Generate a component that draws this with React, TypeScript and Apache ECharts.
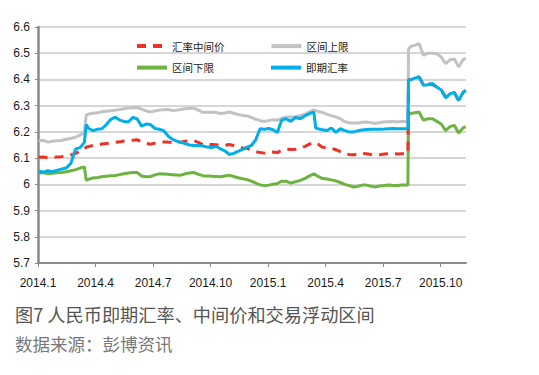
import React, { useEffect, useRef } from "react";
import * as echarts from "echarts";

// Sample dates (roughly weekly, plus the dates around the band/level jumps)
const dates: string[] = [
  "2014-01-02", "2014-01-10", "2014-01-17", "2014-01-24", "2014-01-31", "2014-02-07", "2014-02-14", "2014-02-21", "2014-02-28", "2014-03-07",
  "2014-03-14", "2014-03-17", "2014-03-21", "2014-03-28", "2014-04-04", "2014-04-11", "2014-04-18", "2014-04-25", "2014-05-02", "2014-05-09",
  "2014-05-16", "2014-05-23", "2014-05-30", "2014-06-06", "2014-06-13", "2014-06-20", "2014-06-27", "2014-07-04", "2014-07-11", "2014-07-18",
  "2014-07-25", "2014-08-01", "2014-08-08", "2014-08-15", "2014-08-22", "2014-08-29", "2014-09-05", "2014-09-12", "2014-09-19", "2014-09-26",
  "2014-10-03", "2014-10-10", "2014-10-17", "2014-10-24", "2014-10-31", "2014-11-07", "2014-11-14", "2014-11-21", "2014-11-28", "2014-12-05",
  "2014-12-12", "2014-12-19", "2014-12-26", "2015-01-02", "2015-01-09", "2015-01-16", "2015-01-23", "2015-01-30", "2015-02-06", "2015-02-13",
  "2015-02-20", "2015-02-27", "2015-03-06", "2015-03-13", "2015-03-16", "2015-03-20", "2015-03-27", "2015-04-03", "2015-04-10", "2015-04-17",
  "2015-04-24", "2015-05-01", "2015-05-08", "2015-05-15", "2015-05-22", "2015-05-29", "2015-06-05", "2015-06-12", "2015-06-19", "2015-06-26",
  "2015-07-03", "2015-07-10", "2015-07-17", "2015-07-24", "2015-07-31", "2015-08-07", "2015-08-10", "2015-08-11", "2015-08-14", "2015-08-21",
  "2015-08-28", "2015-09-04", "2015-09-11", "2015-09-18", "2015-09-25", "2015-10-02", "2015-10-09", "2015-10-16", "2015-10-23", "2015-10-30",
  "2015-11-06", "2015-11-10",
];

// 汇率中间价
const midRate: number[] = [
  6.103, 6.104, 6.101, 6.103, 6.104, 6.105, 6.108, 6.112, 6.118, 6.126,
  6.134, 6.142, 6.144, 6.148, 6.150, 6.154, 6.156, 6.158, 6.160, 6.162,
  6.165, 6.167, 6.168, 6.170, 6.163, 6.156, 6.153, 6.157, 6.160, 6.161,
  6.161, 6.159, 6.160, 6.161, 6.164, 6.166, 6.166, 6.160, 6.151, 6.152,
  6.152, 6.151, 6.147, 6.149, 6.152, 6.148, 6.143, 6.139, 6.137, 6.132,
  6.125, 6.121, 6.119, 6.121, 6.123, 6.121, 6.130, 6.134, 6.133, 6.134,
  6.138, 6.145, 6.153, 6.160, 6.157, 6.153, 6.141, 6.140, 6.138, 6.132,
  6.125, 6.116, 6.114, 6.113, 6.114, 6.118, 6.117, 6.114, 6.111, 6.113,
  6.116, 6.117, 6.117, 6.116, 6.117, 6.117, 6.117, 6.398, 6.400, 6.405,
  6.410, 6.380, 6.385, 6.380, 6.372, 6.360, 6.332, 6.345, 6.350, 6.320,
  6.350, 6.358,
];

// 区间上限
const upperBand: number[] = [
  6.166, 6.168, 6.161, 6.164, 6.166, 6.167, 6.172, 6.175, 6.180, 6.188,
  6.197, 6.265, 6.268, 6.271, 6.273, 6.277, 6.279, 6.281, 6.283, 6.285,
  6.288, 6.291, 6.292, 6.293, 6.287, 6.280, 6.276, 6.280, 6.283, 6.284,
  6.285, 6.282, 6.283, 6.285, 6.288, 6.290, 6.290, 6.283, 6.274, 6.275,
  6.275, 6.274, 6.270, 6.272, 6.276, 6.271, 6.266, 6.263, 6.261, 6.255,
  6.248, 6.243, 6.240, 6.243, 6.246, 6.244, 6.253, 6.256, 6.257, 6.258,
  6.262, 6.268, 6.276, 6.284, 6.281, 6.278, 6.274, 6.267, 6.262, 6.257,
  6.250, 6.239, 6.235, 6.234, 6.234, 6.237, 6.238, 6.235, 6.232, 6.236,
  6.238, 6.239, 6.240, 6.238, 6.240, 6.240, 6.240, 6.515, 6.525, 6.530,
  6.537, 6.492, 6.500, 6.500, 6.498, 6.485, 6.460, 6.475, 6.478, 6.448,
  6.475, 6.482,
];

// 区间下限
const lowerBand: number[] = [
  6.042, 6.045, 6.040, 6.042, 6.044, 6.045, 6.048, 6.052, 6.056, 6.062,
  6.066, 6.015, 6.020, 6.024, 6.026, 6.029, 6.031, 6.033, 6.034, 6.037,
  6.040, 6.043, 6.045, 6.045, 6.032, 6.029, 6.030, 6.036, 6.040, 6.039,
  6.038, 6.037, 6.036, 6.035, 6.040, 6.043, 6.045, 6.038, 6.033, 6.032,
  6.031, 6.030, 6.029, 6.032, 6.035, 6.030, 6.025, 6.021, 6.018, 6.012,
  6.005, 5.998, 5.995, 5.997, 6.000, 6.003, 6.012, 6.012, 6.005, 6.010,
  6.015, 6.023, 6.032, 6.040, 6.036, 6.030, 6.022, 6.020, 6.017, 6.013,
  6.007, 6.000, 5.995, 5.990, 5.992, 5.997, 5.997, 5.993, 5.990, 5.994,
  5.996, 5.997, 5.996, 5.996, 5.997, 5.997, 5.997, 6.268, 6.270, 6.273,
  6.276, 6.245, 6.250, 6.250, 6.240, 6.230, 6.205, 6.220, 6.225, 6.196,
  6.215, 6.220,
];

// 即期汇率
const spotRate: number[] = [
  6.050, 6.046, 6.052, 6.048, 6.053, 6.058, 6.062, 6.080, 6.135, 6.140,
  6.160, 6.228, 6.213, 6.205, 6.210, 6.212, 6.228, 6.248, 6.256, 6.245,
  6.240, 6.238, 6.255, 6.250, 6.222, 6.230, 6.228, 6.213, 6.210, 6.205,
  6.185, 6.172, 6.165, 6.160, 6.155, 6.150, 6.148, 6.148, 6.146, 6.142,
  6.140, 6.145, 6.135, 6.128, 6.114, 6.118, 6.126, 6.133, 6.142, 6.148,
  6.170, 6.212, 6.210, 6.213, 6.208, 6.198, 6.245, 6.250, 6.240, 6.255,
  6.250, 6.262, 6.270, 6.275, 6.215, 6.212, 6.208, 6.205, 6.215, 6.198,
  6.212, 6.205, 6.200, 6.200, 6.204, 6.207, 6.209, 6.210, 6.210, 6.210,
  6.211, 6.212, 6.213, 6.212, 6.212, 6.212, 6.212, 6.398, 6.398, 6.405,
  6.410, 6.378, 6.380, 6.385, 6.370, 6.360, 6.330, 6.345, 6.350, 6.320,
  6.350, 6.360,
];

const xTickLabels: string[] = ["2014.1", "2014.4", "2014.7", "2014.10", "2015.1", "2015.4", "2015.7", "2015.10"];
const xTickMonths: number[] = [0, 3, 6, 9, 12, 15, 18, 21];
const xMaxMonth = 22.32;

const seriesNames = { mid: "汇率中间价", upper: "区间上限", lower: "区间下限", spot: "即期汇率" };
const titleText = "图7 人民币即期汇率、中间价和交易浮动区间";
const sourceText = "数据来源：彭博资讯";

// month offset from 2014-01-01
function monthPos(s: string): number {
  const [y, m, d] = s.split("-").map(Number);
  const dim = new Date(y, m, 0).getDate();
  return (y - 2014) * 12 + (m - 1) + (d - 1) / dim;
}

const toPairs = (vals: number[]) => dates.map((d, i) => [monthPos(d), vals[i]]);

const numFont = "'Liberation Sans Narrow', 'Liberation Sans', Arial, sans-serif";
const cjkFont = "'Noto Sans CJK SC', 'Noto Sans', sans-serif";

export default function App() {
  const ref = useRef<HTMLDivElement>(null);

  useEffect(() => {
    document.body.style.margin = "0";
    if (!ref.current) return;
    const chart = echarts.init(ref.current, undefined, { renderer: "svg" });

    const legendCommon = {
      left: 135,
      padding: 0,
      itemWidth: 30,
      itemHeight: 14,
      lineStyle: { width: 4 },
      itemStyle: { opacity: 0 },
      textStyle: { fontSize: 10.5, color: "#222", fontFamily: cjkFont },
      selectedMode: false as const,
    };

    chart.setOption({
      animation: false,
      backgroundColor: "#ffffff",
      grid: { left: 38, top: 27, right: 73, bottom: 112, containLabel: false },
      legend: [
        { ...legendCommon, top: 40.5, itemGap: 45, data: [seriesNames.mid, seriesNames.upper] },
        { ...legendCommon, top: 62, itemGap: 55, data: [seriesNames.lower, seriesNames.spot] },
      ],
      xAxis: {
        type: "value",
        min: 0,
        max: xMaxMonth,
        interval: 3,
        axisLine: { show: true, lineStyle: { color: "#8a8a8a", width: 2 } },
        axisTick: { show: true, length: 4, lineStyle: { color: "#8a8a8a", width: 1 }, customValues: xTickMonths },
        axisLabel: {
          customValues: xTickMonths,
          margin: 14,
          color: "#1a1a1a",
          fontSize: 12,
          fontFamily: numFont,
          formatter: (v: number) => {
            const idx = xTickMonths.indexOf(Math.round(v));
            return idx >= 0 ? xTickLabels[idx] : "";
          },
        },
        splitLine: { show: false },
      },
      yAxis: {
        type: "value",
        min: 5.7,
        max: 6.6,
        interval: 0.1,
        axisLine: { show: true, lineStyle: { color: "#8a8a8a", width: 2.5 } },
        axisTick: { show: true, length: 3, lineStyle: { color: "#8a8a8a", width: 1 } },
        axisLabel: {
          margin: 8,
          color: "#1a1a1a",
          fontSize: 12,
          fontFamily: numFont,
          formatter: (v: number) => String(Math.round(v * 10) / 10),
        },
        splitLine: { show: true, lineStyle: { color: "#c8c8c8", width: 1.5 } },
      },
      series: [
        {
          name: seriesNames.upper,
          type: "line",
          symbol: "none",
          data: toPairs(upperBand),
          lineStyle: { color: "#c2c2c6", width: 3 },
          itemStyle: { color: "#c2c2c6" },
        },
        {
          name: seriesNames.lower,
          type: "line",
          symbol: "none",
          data: toPairs(lowerBand),
          lineStyle: { color: "#6cb33f", width: 3 },
          itemStyle: { color: "#6cb33f" },
        },
        {
          name: seriesNames.mid,
          type: "line",
          symbol: "none",
          data: toPairs(midRate),
          lineStyle: { color: "#ee3124", width: 3, type: [9, 7] },
          itemStyle: { color: "#ee3124" },
        },
        {
          name: seriesNames.spot,
          type: "line",
          symbol: "none",
          data: toPairs(spotRate),
          lineStyle: { color: "#00aeea", width: 3 },
          itemStyle: { color: "#00aeea" },
        },
      ],
      graphic: [
        {
          type: "text",
          left: 15,
          top: 305,
          style: { text: titleText, fontSize: 18.2, fill: "#555555", fontFamily: cjkFont },
        },
        {
          type: "text",
          left: 15,
          top: 335,
          style: { text: sourceText, fontSize: 17.5, fill: "#777777", fontFamily: cjkFont },
        },
      ],
    });

    return () => {
      chart.dispose();
    };
  }, []);

  return <div ref={ref} style={{ width: 539, height: 375 }} />;
}
